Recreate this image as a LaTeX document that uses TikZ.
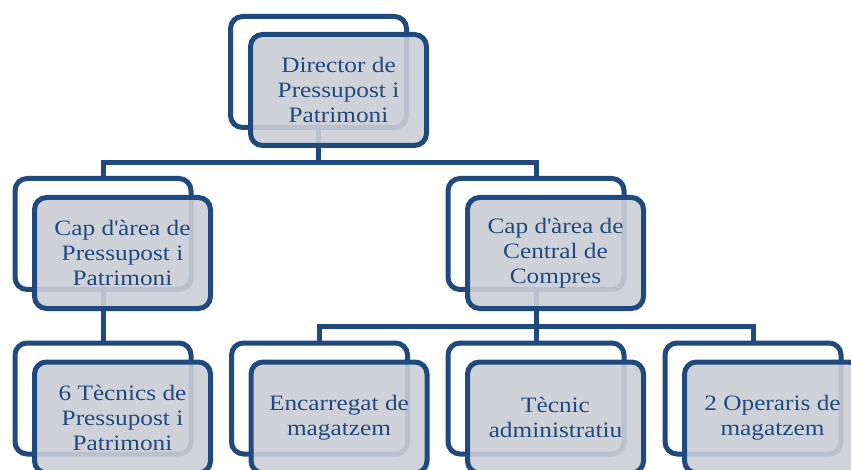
\documentclass[tikz,border=0pt]{standalone}
\usepackage{fontspec}
\setmainfont{Liberation Serif}[FakeStretch=1.15]
\definecolor{dblue}{RGB}{32,74,126}
\definecolor{ffill}{RGB}{203,206,214}
\begin{document}
\begin{tikzpicture}[x=1pt,y=-1pt,
  backbox/.style={draw=dblue, line width=5pt, fill=white, rounded corners=12pt,
    minimum width=176pt, minimum height=111pt, inner sep=0pt, outer sep=0pt, anchor=north west},
  frontbox/.style={draw=dblue, line width=5pt, fill=ffill, fill opacity=0.9, draw opacity=1,
    text opacity=1, rounded corners=12pt, minimum width=176pt, minimum height=111pt,
    inner sep=0pt, outer sep=0pt, anchor=north west, align=center, text=dblue,
    font=\fontsize{22}{25}\selectfont},
  conn/.style={draw=dblue, line width=5pt}]
\useasboundingbox (0,0) rectangle (851,470);
\clip (0,0) rectangle (851,470);
% back boxes
\node[backbox] (dirB) at (230.5,16.5) {};
\node[backbox] (capLB) at (15,178.5) {};
\node[backbox] (capRB) at (448,178.5) {};
\node[backbox] (tecB) at (15,343) {};
\node[backbox] (encB) at (231.5,343) {};
\node[backbox] (tecaB) at (448,343) {};
\node[backbox] (opB) at (665,343) {};
% connectors
\coordinate (j1) at (0,163);
\coordinate (j2) at (0,326);
\draw[conn] (dirB.south) -- (dirB.south |- j1);
\draw[conn] (capLB.north) -- (capLB.north |- j1) -- (capRB.north |- j1) -- (capRB.north);
\draw[conn] (capLB.south) -- (tecB.north);
\draw[conn] (capRB.south) -- (capRB.south |- j2);
\draw[conn] (encB.north) -- (encB.north |- j2) -- (opB.north |- j2) -- (opB.north);
\draw[conn] (tecaB.north) -- (tecaB.north |- j2);
% front boxes
\node[frontbox] (dirF) at (250.5,34.5) {Director de\\Pressupost i\\Patrimoni};
\node[frontbox] (capLF) at (34.5,197.5) {Cap d\textquotesingle àrea de\\Pressupost i\\Patrimoni};
\node[frontbox] (capRF) at (467.5,197.5) {Cap d\textquotesingle àrea de\\Central de\\Compres};
\node[frontbox] (tecF) at (34.5,362) {6 Tècnics de\\Pressupost i\\Patrimoni};
\node[frontbox] (encF) at (251,362) {Encarregat de\\magatzem};
\node[frontbox] (tecaF) at (467.5,362) {Tècnic\\administratiu};
\node[frontbox] (opF) at (684.5,362) {2 Operaris de\\magatzem};
\end{tikzpicture}
\end{document}
